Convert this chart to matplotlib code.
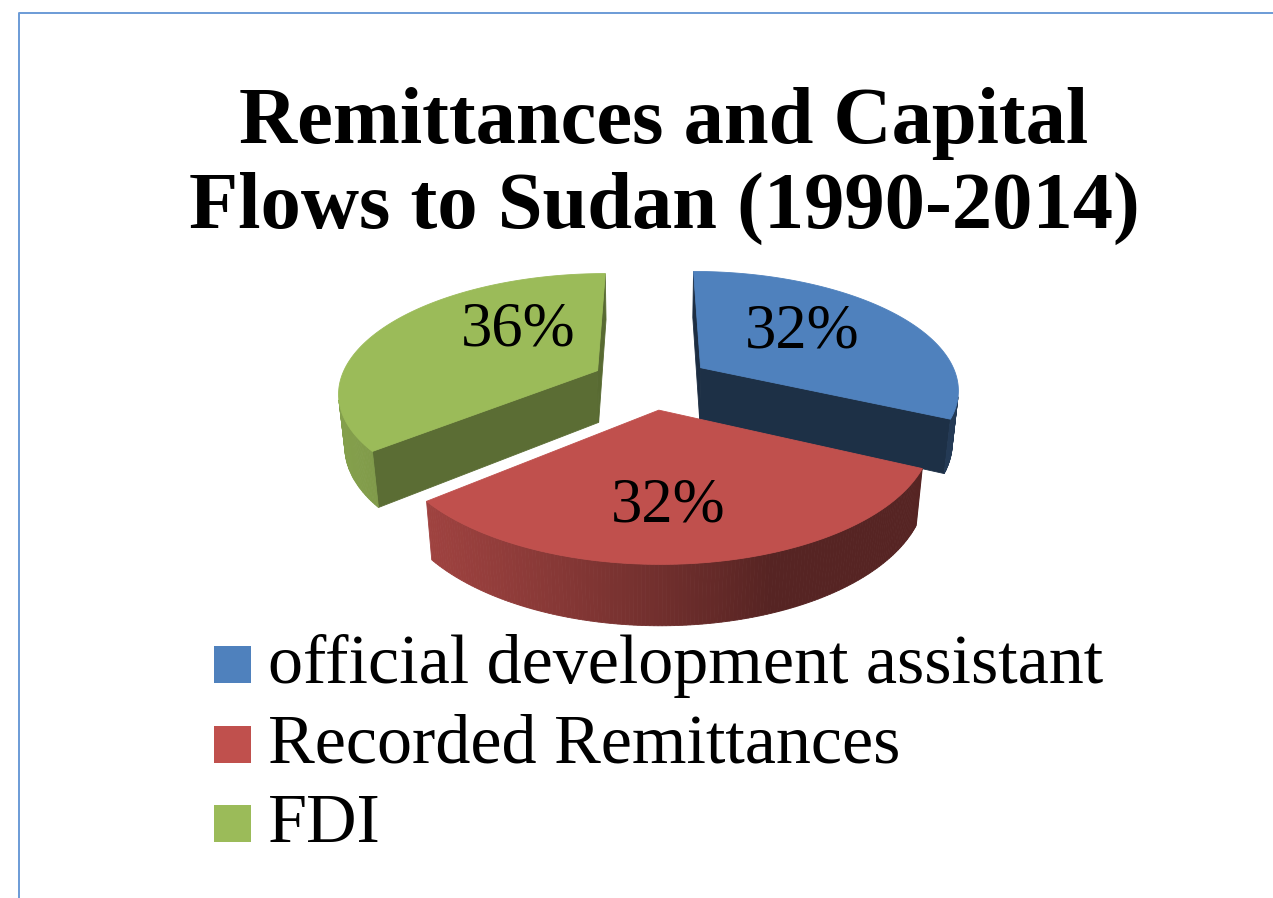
import numpy as np
import matplotlib.pyplot as plt
from matplotlib.patches import Polygon, Rectangle
from matplotlib.colors import to_rgb

categories = ["official development assistant", "Recorded Remittances", "FDI"]
shares = [32, 32, 36]
pct_labels = ["32%", "32%", "36%"]
colors = ["#4F81BD", "#C0504D", "#9BBB59"]
title_lines = ["Remittances and Capital", "Flows to Sudan (1990-2014)"]

W, H = 1273, 898
SERIF = ["Liberation Serif", "DejaVu Serif"]

# geometry of the 3-D pie, in pixels
CX, CY = 651, 382
RADIUS = 258
DEPTH = 60
EXPLODE = 60
TILT = np.radians(27)
CAM = 1350.0
CAM_POS = np.array([0.0, -CAM * np.cos(TILT), CAM * np.sin(TILT)])
# small shifts of the percentage labels, like Excel places them
label_nudge = [(-10, -10), (-12, 11), (37, -22)]


def project(x, y, z):
    w = 1 + (y * np.cos(TILT) - z * np.sin(TILT)) / CAM
    return CX + x / w, CY - (y * np.sin(TILT) + z * np.cos(TILT)) / w


def facing(normal, point):
    return np.dot(normal, CAM_POS - np.asarray(point)) > 0


def shade(color, k):
    return tuple(np.clip(np.array(to_rgb(color)) * k, 0, 1))


def rim_factor(t):
    return 0.45 + 0.4 * max(0.0, np.cos(t - np.radians(250)))


def side_factor(nangle):
    return 0.35 + 0.25 * max(0.0, np.cos(nangle - np.radians(120)))


def face(ax, pts3d, color, z):
    xs, ys = project(*np.array(pts3d).T)
    ax.add_patch(Polygon(np.column_stack([xs, ys]), closed=True, facecolor=color,
                         edgecolor=color, linewidth=0.6, zorder=z))


fig = plt.figure(figsize=(W / 100, H / 100), dpi=100)
ax = fig.add_axes([0, 0, 1, 1])
ax.set_xlim(0, W)
ax.set_ylim(H, 0)
ax.axis("off")

# frame
ax.plot([18.5, 18.5, W + 5], [H + 5, 12.5, 12.5], color="#6b9bd6", lw=1.4,
        clip_on=False)

# titles
ax.text(664, 143, title_lines[0], ha="center", va="baseline", fontsize=58,
        fontweight="bold", family=SERIF)
ax.text(664, 228, title_lines[1], ha="center", va="baseline", fontsize=58,
        fontweight="bold", family=SERIF)

fracs = np.array(shares, dtype=float) / sum(shares)
ends = np.cumsum(fracs) * 2 * np.pi
starts = ends - fracs * 2 * np.pi

slices = []
for i in range(len(shares)):
    mid = (starts[i] + ends[i]) / 2
    ox, oy = EXPLODE * np.sin(mid), EXPLODE * np.cos(mid)
    slices.append((oy, i, mid, ox))
slices.sort(reverse=True)  # far slices first

z = 2
for oy, i, mid, ox in slices:
    s, e = starts[i], ends[i]
    col = colors[i]
    t = np.linspace(s, e, 160)
    rx, ry = ox + RADIUS * np.sin(t), oy + RADIUS * np.cos(t)

    # cut faces
    for ang, n in ((s, (-np.cos(s), np.sin(s), 0)), (e, (np.cos(e), -np.sin(e), 0))):
        px, py = ox + RADIUS * np.sin(ang), oy + RADIUS * np.cos(ang)
        mpt = ((ox + px) / 2, (oy + py) / 2, -DEPTH / 2)
        if facing(n, mpt):
            nang = np.arctan2(n[0], n[1])
            face(ax, [(ox, oy, 0), (px, py, 0), (px, py, -DEPTH), (ox, oy, -DEPTH)],
                 shade(col, side_factor(nang)), z)
    z += 1

    # outer rim
    for j in range(len(t) - 1):
        tm = (t[j] + t[j + 1]) / 2
        n = (np.sin(tm), np.cos(tm), 0)
        p = (ox + RADIUS * np.sin(tm), oy + RADIUS * np.cos(tm), -DEPTH / 2)
        if facing(n, p):
            face(ax, [(rx[j], ry[j], 0), (rx[j + 1], ry[j + 1], 0),
                      (rx[j + 1], ry[j + 1], -DEPTH), (rx[j], ry[j], -DEPTH)],
                 shade(col, rim_factor(tm)), z)
    z += 1

    # top
    top = [(ox, oy, 0)] + [(a, b, 0) for a, b in zip(rx, ry)]
    face(ax, top, col, z)
    z += 1

    # percentage label near the centroid of the top face
    half = (e - s) / 2
    rc = 2 / 3 * RADIUS * np.sin(half) / half
    lx, ly = project(ox + rc * np.sin(mid), oy + rc * np.cos(mid), 0)
    dx, dy = label_nudge[i]
    ax.text(lx + dx, ly + dy, pct_labels[i], ha="center", va="center_baseline",
            fontsize=45, family=SERIF, zorder=50)

# legend
for i, (cat, col) in enumerate(zip(categories, colors)):
    y0 = 646 + i * 79.5
    ax.add_patch(Rectangle((214, y0), 37, 37, facecolor=col, edgecolor="none"))
    ax.text(268, y0 + 37, cat, ha="left", va="baseline", fontsize=50.5, family=SERIF)

fig.savefig("out.png", dpi=100)
